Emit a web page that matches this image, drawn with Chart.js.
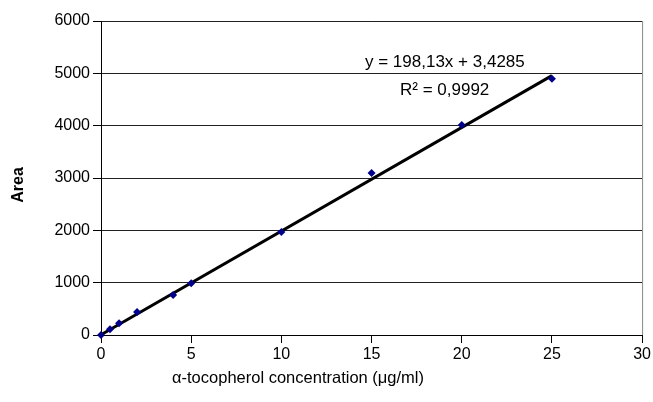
<!DOCTYPE html>
<html>
<head>
<meta charset="utf-8">
<script src="https://cdn.jsdelivr.net/npm/chart.js@4.4.0/dist/chart.umd.min.js"></script>
<style>
  body { margin: 0; background: #fff; }
  #wrap { width: 653px; height: 402px; }
</style>
</head>
<body>
<div id="wrap"><canvas id="myChart"></canvas></div>
<script>
const concentration = [0, 0.5, 1, 2, 4, 5, 10, 15, 20, 25];
const area = [0, 110, 225, 440, 765, 990, 1970, 3095, 4015, 4895];
const slope = 198.13;
const intercept = 3.4285;
const fitX = [0, 25];
const xTicks = [0, 5, 10, 15, 20, 25, 30];
const yTicks = [0, 1000, 2000, 3000, 4000, 5000, 6000];
const equationText = "y = 198,13x + 3,4285";
const r2Text = "R² = 0,9992";

const FONT = "'Liberation Sans Narrow', 'Arial Narrow', 'Liberation Sans', sans-serif";

const points = concentration.map((x, i) => ({ x: x, y: area[i] }));
const fitLine = fitX.map(x => ({ x: x, y: slope * x + intercept }));

// extra text: axis titles, equation, right border
const extras = {
  id: "extras",
  afterDraw(chart) {
    const ctx = chart.ctx;
    const a = chart.chartArea;
    ctx.save();
    ctx.strokeStyle = "#888";
    ctx.lineWidth = 1;
    ctx.beginPath();
    ctx.moveTo(a.right + 0.5, a.top);
    ctx.lineTo(a.right + 0.5, a.bottom);
    ctx.stroke();

    ctx.fillStyle = "#000";
    ctx.font = "17px " + FONT;
    ctx.textAlign = "left";
    ctx.textBaseline = "middle";
    ctx.fillText(equationText, 365, 62);
    ctx.fillText(r2Text, 400, 90);

    ctx.textAlign = "center";
    ctx.font = "16.5px " + FONT;
    ctx.fillText("\u03b1-tocopherol concentration (\u03bcg/ml)", 298, 378);

    ctx.translate(19, 185);
    ctx.rotate(-Math.PI / 2);
    ctx.font = "bold 16px " + FONT;
    ctx.fillText("Area", 0, 0);
    ctx.restore();
  }
};

new Chart("myChart", {
  type: "scatter",
  data: {
    datasets: [
      {
        label: "fit",
        type: "line",
        data: fitLine,
        borderColor: "#000",
        borderWidth: 3,
        pointRadius: 0,
        fill: false,
        clip: false,
        order: 2,
      },
      {
        label: "Area",
        data: points,
        pointStyle: "rectRot",
        pointRadius: 4,
        backgroundColor: "#00008b",
        borderColor: "#00008b",
        borderWidth: 0,
        clip: false,
        order: 1,
      },
    ],
  },
  options: {
    responsive: true,
    maintainAspectRatio: false,
    animation: false,
    layout: { padding: { top: 21, right: 8, left: 0, bottom: 0 } },
    plugins: {
      legend: { display: false },
      tooltip: { enabled: false },
    },
    scales: {
      x: {
        type: "linear",
        min: 0,
        max: 30,
        afterBuildTicks: (s) => { s.ticks = xTicks.map(v => ({ value: v })); },
        afterFit: (s) => { s.height = 67; },
        grid: {
          drawOnChartArea: false,
          drawTicks: true,
          tickLength: 8,
          tickColor: "#000",
        },
        border: { color: "#000", width: 1 },
        ticks: {
          color: "#000",
          padding: 2,
          maxRotation: 0,
          font: { family: FONT, size: 16 },
          callback: (v) => String(v),
        },
      },
      y: {
        min: 0,
        max: 6000,
        afterBuildTicks: (s) => { s.ticks = yTicks.map(v => ({ value: v })); },
        afterFit: (s) => { s.width = 101; },
        grid: {
          color: "#222",
          lineWidth: 1,
          drawTicks: true,
          tickLength: 8,
          tickColor: "#000",
        },
        border: { color: "#000", width: 1 },
        ticks: {
          color: "#000",
          padding: 3,
          font: { family: FONT, size: 16 },
          callback: (v) => String(v),
        },
      },
    },
  },
  plugins: [extras],
});
</script>
</body>
</html>
